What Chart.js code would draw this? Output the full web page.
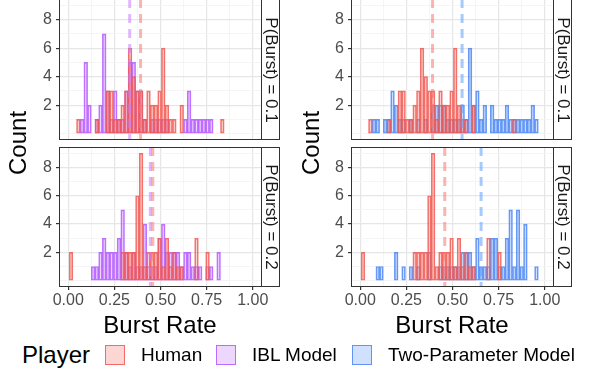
<!DOCTYPE html>
<html>
<head>
<meta charset="utf-8">
<script src="https://cdn.jsdelivr.net/npm/chart.js@4/dist/chart.umd.min.js"></script>
<style>
body { margin: 0; background: #fff; }
#wrap { position: relative; width: 589px; height: 381px; overflow: hidden;
	font-family: "Liberation Sans", Arial, sans-serif; }
#wrap canvas { position: absolute; }
.strip { position: absolute; box-sizing: border-box; border: 1px solid #333;
	background: #fff; }
.strip span { position: absolute; left: 50%; top: 50%; white-space: nowrap;
	transform: translate(-50%, -50%) rotate(90deg); font-size: 17px; color: #1a1a1a; }
.title { position: absolute; white-space: nowrap; font-size: 24px; color: #000; }
.ytitle { transform: translate(-50%, -50%) rotate(-90deg); }
.xtitle { transform: translate(-50%, -50%); }
.key { position: absolute; width: 20px; height: 20px; box-sizing: border-box;
	border: 1.5px solid; }
.lab { position: absolute; font-size: 19px; color: #000; white-space: nowrap;
	transform: translateY(-50%); }
</style>
</head>
<body>
<div id="wrap">
	<canvas id="tl" width="280" height="141" style="left:0;top:-1px"></canvas>
	<canvas id="bl" width="280" height="165" style="left:0;top:147px"></canvas>
	<canvas id="tr" width="282" height="141" style="left:290px;top:-1px"></canvas>
	<canvas id="br" width="282" height="165" style="left:290px;top:147px"></canvas>
	<div class="strip" style="left:261px;top:-1px;width:19px;height:141px"><span>P(Burst) = 0.1</span></div>
	<div class="strip" style="left:261px;top:147px;width:19px;height:140px"><span>P(Burst) = 0.2</span></div>
	<div class="strip" style="left:553px;top:-1px;width:19px;height:141px"><span>P(Burst) = 0.1</span></div>
	<div class="strip" style="left:553px;top:147px;width:19px;height:140px"><span>P(Burst) = 0.2</span></div>
	<div class="title ytitle" style="left:18px;top:143px">Count</div>
	<div class="title ytitle" style="left:311px;top:143px">Count</div>
	<div class="title xtitle" style="left:160px;top:325px">Burst Rate</div>
	<div class="title xtitle" style="left:452px;top:325px">Burst Rate</div>
	<div id="legend"></div>
</div>
<script>
/* Histogram bins: 48 bins of width 0.02, counted from 0.005. */
const binStart = 0.005;
const binWidth = 0.02;

/* Counts per bin. */
const humanP01 = [0,0,1,0,0,0,0,1,0,0, 3,3,1,1,2,3,6,4,3,3, 1,3,2,2,3,6,2,1,1,0,
	2,0,0,0,0,0,0,0,0,0, 0,1,0,0,0,0,0,0];
const humanP02 = [2,0,0,0,0,0,0,0,0,0, 0,0,0,0,2,2,2,2,6,9, 1,2,2,2,3,1,3,1,2,1,
	1,0,0,0,3,0,0,2,0,0, 0,0,0,0,0,0,0,0];
const iblP01 = [0,0,0,1,5,2,0,1,2,7, 3,1,3,1,1,3,5,5,3,3, 1,0,1,1,1,1,1,0,0,0,
	0,1,3,1,1,1,1,1,1,0, 0,0,0,0,0,0,0,0];
const iblP02 = [0,0,0,0,0,0,1,1,2,3, 2,2,2,3,5,2,1,2,1,1, 4,1,1,1,3,4,2,2,2,2,
	1,2,2,1,1,1,0,1,1,0, 2,0,0,0,0,0,0,0];
const twoParamP01 = [0,0,0,1,1,0,1,1,3,2, 1,1,0,1,0,1,0,1,0,2, 2,2,2,1,1,1,1,2,1,6,
	2,3,1,2,0,2,1,1,1,2, 1,1,1,1,1,1,2,1];
const twoParamP02 = [0,0,0,0,1,1,0,0,0,2, 0,1,0,1,0,1,0,0,2,0, 0,1,1,1,1,1,1,2,2,2,
	1,3,1,1,1,3,3,1,1,3, 5,1,5,1,4,0,0,1];

/* Dashed mean lines, [P = 0.1, P = 0.2]. */
const humanMean = [0.392, 0.458];
const iblMean = [0.333, 0.445];
const twoParamMean = [0.552, 0.655];

/* Axis ticks. */
const xTicks = [0, 0.125, 0.25, 0.375, 0.5, 0.625, 0.75, 0.875, 1];
const xMajor = [0, 0.25, 0.5, 0.75, 1];
const yTicks = [0, 1, 2, 3, 4, 5, 6, 7, 8, 9];
const yMajor = [2, 4, 6, 8];

const players = ['Human', 'IBL Model', 'Two-Parameter Model'];
const lineColors = ['rgba(240, 88, 82, 0.85)', 'rgba(178, 88, 255, 0.85)',
	'rgba(78, 134, 245, 0.85)'];
const fillColors = ['rgba(248, 118, 109, 0.3)', 'rgba(199, 124, 255, 0.3)',
	'rgba(97, 156, 255, 0.3)'];
const meanColors = ['rgba(248, 118, 109, 0.55)', 'rgba(199, 124, 255, 0.55)',
	'rgba(97, 156, 255, 0.55)'];

const tickFont = { family: '"Liberation Sans", Arial, sans-serif', size: 16 };

function toPoints(counts)
{
	const pts = [];
	counts.forEach((c, i) => {
		if (c > 0)
			pts.push({ x: binStart + binWidth * (i + 0.5), y: c });
	});
	return pts;
}

function histSet(counts, player)
{
	return {
		data: toPoints(counts),
		backgroundColor: fillColors[player],
		borderColor: lineColors[player],
		borderWidth: 1,
		borderSkipped: false,
		grouped: false,
		barPercentage: 1,
		categoryPercentage: 1,
	};
}

/* Is the tick of a scriptable context one of the labelled ones? */
function isMajor(c, major)
{
	return c.tick !== undefined && major.includes(c.tick.value);
}

/* Dashed vertical lines at the group means. */
const meanLines = {
	id: 'meanLines',
	afterDatasetsDraw(chart, args, opts) {
		const { ctx, chartArea } = chart;
		const x = chart.scales.x;
		ctx.save();
		ctx.lineWidth = 3;
		ctx.setLineDash([9, 6]);
		for (const m of opts.lines) {
			const px = x.getPixelForValue(m.value);
			ctx.strokeStyle = m.color;
			ctx.beginPath();
			ctx.moveTo(px, chartArea.top);
			ctx.lineTo(px, chartArea.bottom);
			ctx.stroke();
		}
		ctx.restore();
	}
};

/* Dark frame round the panel. */
const panelBorder = {
	id: 'panelBorder',
	afterDraw(chart) {
		const { ctx, chartArea } = chart;
		ctx.save();
		ctx.strokeStyle = '#333';
		ctx.lineWidth = 1;
		ctx.strokeRect(chartArea.left + 0.5, chartArea.top + 0.5,
			chartArea.right - chartArea.left - 1,
			chartArea.bottom - chartArea.top - 1);
		ctx.restore();
	}
};

function drawPanel(id, human, model, player, means, row, axisWidth)
{
	const bottom = row === 1;
	return new Chart(document.getElementById(id), {
		type: 'bar',
		data: {
			datasets: [histSet(human, 0), histSet(model, player)],
		},
		options: {
			responsive: false,
			animation: false,
			devicePixelRatio: 1,
			layout: { autoPadding: false,
				padding: { top: 0, right: 18, bottom: 0, left: 0 } },
			plugins: {
				legend: { display: false },
				tooltip: { enabled: false },
				meanLines: {
					lines: [
						{ value: means[1], color: meanColors[player] },
						{ value: means[0], color: meanColors[0] },
					],
				},
			},
			scales: {
				x: {
					type: 'linear',
					min: -0.05,
					max: 1.05,
					offset: false,
					afterBuildTicks: (a) => {
						a.ticks = xTicks.map(v => ({ value: v }));
					},
					afterFit: (s) => {
						s.height = bottom ? 25 : 0;
						s.paddingLeft = 0;
						s.paddingRight = 0;
					},
					ticks: {
						display: bottom,
						autoSkip: false,
						maxRotation: 0,
						padding: 1,
						font: tickFont,
						color: '#4d4d4d',
						callback: (v) => xMajor.includes(v) ? v.toFixed(2) : '',
					},
					grid: {
						offset: false,
						drawTicks: bottom,
						tickLength: 3,
						tickColor: (c) => isMajor(c, xMajor) ? '#333' : 'rgba(0,0,0,0)',
						color: (c) => isMajor(c, xMajor) ? '#e6e6e6' : '#f2f2f2',
						lineWidth: (c) => isMajor(c, xMajor) ? 1.2 : 0.8,
					},
					border: { display: false },
				},
				y: {
					min: -0.45,
					max: 9.45,
					afterBuildTicks: (a) => {
						a.ticks = yTicks.map(v => ({ value: v }));
					},
					afterFit: (s) => {
						s.width = axisWidth;
						s.paddingTop = 0;
						s.paddingBottom = 0;
					},
					ticks: {
						autoSkip: false,
						padding: 4,
						font: tickFont,
						color: '#4d4d4d',
						callback: (v) => yMajor.includes(v) ? String(v) : '',
					},
					grid: {
						tickLength: 3,
						tickColor: (c) => isMajor(c, yMajor) ? '#333' : 'rgba(0,0,0,0)',
						color: (c) => isMajor(c, yMajor) ? '#e6e6e6' : '#f2f2f2',
						lineWidth: (c) => isMajor(c, yMajor) ? 1.2 : 0.8,
					},
					border: { display: false },
				},
			},
		},
		plugins: [meanLines, panelBorder],
	});
}

function drawLegend()
{
	const box = document.getElementById('legend');
	const title = document.createElement('div');
	title.className = 'lab';
	title.style.cssText = 'left:22px;top:355px;font-size:24px';
	title.textContent = 'Player';
	box.append(title);
	const keyLeft = [105, 216, 352];
	players.forEach((name, i) => {
		const key = document.createElement('div');
		key.className = 'key';
		key.style.left = keyLeft[i] + 'px';
		key.style.top = '345px';
		key.style.background = fillColors[i];
		key.style.borderColor = lineColors[i];
		box.append(key);
		const lab = document.createElement('div');
		lab.className = 'lab';
		lab.style.left = (keyLeft[i] + 36) + 'px';
		lab.style.top = '355px';
		lab.textContent = name;
		box.append(lab);
	});
}

window.addEventListener('load', () => {
	drawPanel('tl', humanP01, iblP01, 1, [humanMean[0], iblMean[0]], 0, 59);
	drawPanel('bl', humanP02, iblP02, 1, [humanMean[1], iblMean[1]], 1, 59);
	drawPanel('tr', humanP01, twoParamP01, 2, [humanMean[0], twoParamMean[0]], 0, 61);
	drawPanel('br', humanP02, twoParamP02, 2, [humanMean[1], twoParamMean[1]], 1, 61);
	drawLegend();
});
</script>
</body>
</html>
